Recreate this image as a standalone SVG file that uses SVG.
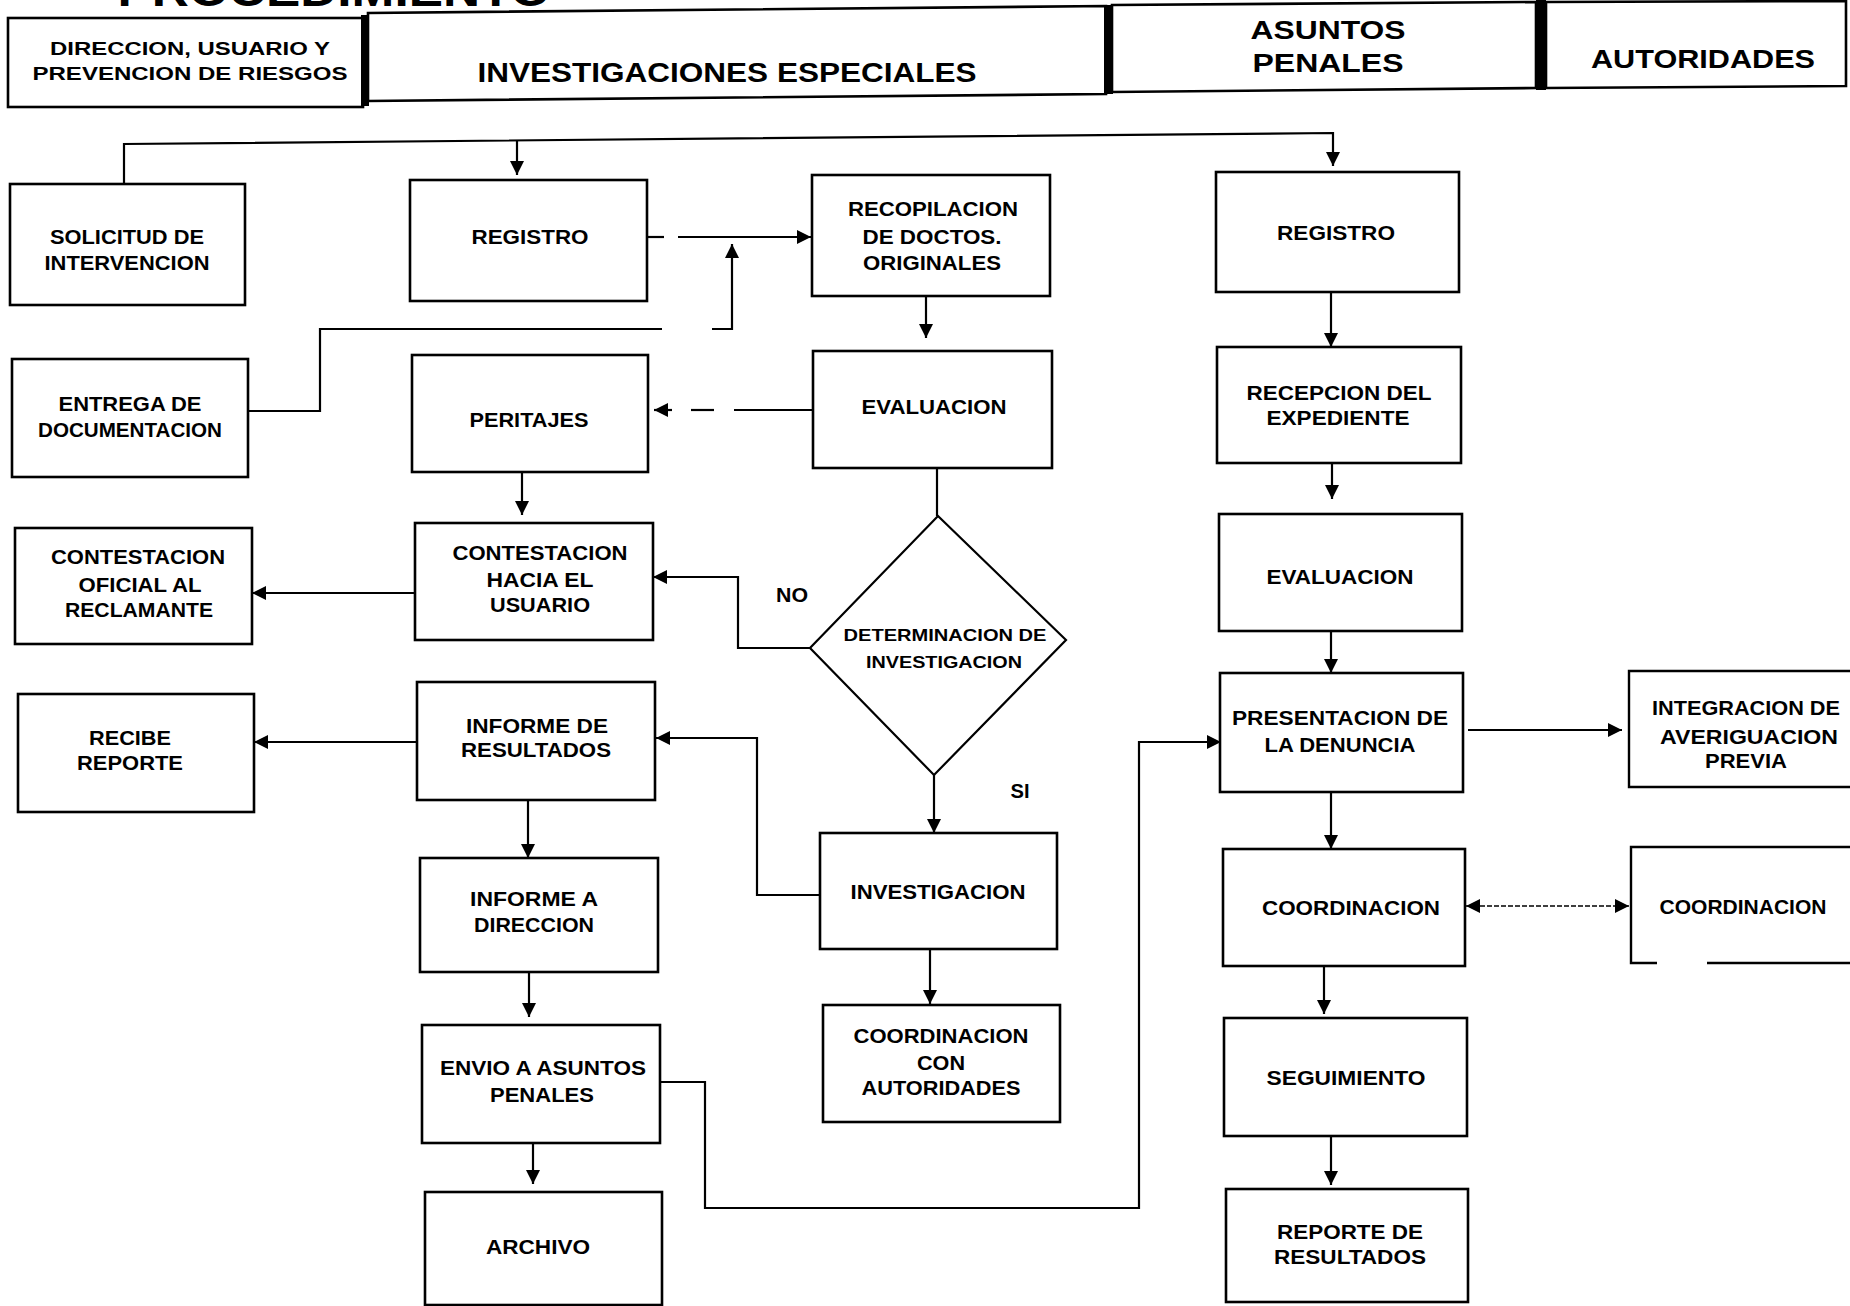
<svg xmlns="http://www.w3.org/2000/svg" width="1850" height="1306" viewBox="0 0 1850 1306">
<style>
.bg{fill:#fff}
.box{fill:#fff;stroke:#000;stroke-width:2.6}
.open{fill:none;stroke:#000;stroke-width:2.4}
.dia{fill:#fff;stroke:#000;stroke-width:2.2}
.bar{fill:#000}
.t{font-family:"Liberation Sans",Arial,Helvetica,sans-serif;font-weight:bold;font-size:20px;text-anchor:middle;fill:#000}
.h{font-size:26px}
.hs{font-size:19px}
.d{font-size:16.5px}
.ln{fill:none;stroke:#000;stroke-width:2.2}
.dot{fill:none;stroke:#000;stroke-width:1.6;stroke-dasharray:5 2}
</style>
<defs>
<marker id="ah" viewBox="0 0 14 14" markerWidth="14" markerHeight="14" refX="14" refY="7" orient="auto-start-reverse" markerUnits="userSpaceOnUse">
<path d="M0,0 L14,7 L0,14 z" fill="#000"/>
</marker>
</defs>
<rect class="bg" x="0" y="0" width="1850" height="1306"/>

<g id="title">
<text class="t" x="334" y="6" style="font-size:44px" textLength="433" lengthAdjust="spacingAndGlyphs">PROCEDIMIENTO</text>
</g>

<g id="header">
<rect class="box" x="8" y="18" width="355" height="89"/>
<polygon class="box" points="368,13 1106,6 1106,94 368,101"/>
<polygon class="box" points="1112,5 1536,2 1536,88 1112,92"/>
<polygon class="box" points="1546,2 1846,1 1846,86 1546,88"/>
<rect class="bar" x="361" y="15" width="8" height="91"/>
<rect class="bar" x="1104" y="5" width="9" height="89"/>
<rect class="bar" x="1536" y="0" width="10" height="90"/>
<text class="t hs" x="190" y="55" textLength="280" lengthAdjust="spacingAndGlyphs">DIRECCION, USUARIO Y</text>
<text class="t hs" x="190" y="80" textLength="315" lengthAdjust="spacingAndGlyphs">PREVENCION DE RIESGOS</text>
<text class="t h" x="727" y="82" style="font-size:27px" textLength="499" lengthAdjust="spacingAndGlyphs">INVESTIGACIONES ESPECIALES</text>
<text class="t h" x="1328" y="39" textLength="155" lengthAdjust="spacingAndGlyphs">ASUNTOS</text>
<text class="t h" x="1328" y="72" textLength="151" lengthAdjust="spacingAndGlyphs">PENALES</text>
<text class="t h" x="1703" y="68" textLength="224" lengthAdjust="spacingAndGlyphs">AUTORIDADES</text>
</g>

<g id="connectors">
<path class="ln" d="M124,184 V144 L1333,133 V166" marker-end="url(#ah)"/>
<path class="ln" d="M517,140 V175" marker-end="url(#ah)"/>
<path class="ln" d="M647,237 H664"/>
<path class="ln" d="M678,237 H811" marker-end="url(#ah)"/>
<path class="ln" d="M249,411 H320 V329 H662"/>
<path class="ln" d="M712,329 H732 V244" marker-end="url(#ah)"/>
<path class="ln" d="M926,296 V338" marker-end="url(#ah)"/>
<path class="ln" d="M813,410 H734"/>
<path class="ln" d="M714,410 H691"/>
<path class="ln" d="M672,410 H654" marker-end="url(#ah)"/>
<path class="ln" d="M937,468 V516"/>
<path class="ln" d="M522,472 V515" marker-end="url(#ah)"/>
<path class="ln" d="M810,648 H738 V577 H653" marker-end="url(#ah)"/>
<path class="ln" d="M415,593 H252" marker-end="url(#ah)"/>
<path class="ln" d="M820,895 H757 V738 H656" marker-end="url(#ah)"/>
<path class="ln" d="M934,775 V833" marker-end="url(#ah)"/>
<path class="ln" d="M417,742 H254" marker-end="url(#ah)"/>
<path class="ln" d="M528,800 V858" marker-end="url(#ah)"/>
<path class="ln" d="M529,972 V1017" marker-end="url(#ah)"/>
<path class="ln" d="M533,1143 V1184" marker-end="url(#ah)"/>
<path class="ln" d="M660,1082 H705 V1208 H1139 V742 H1221" marker-end="url(#ah)"/>
<path class="ln" d="M1331,292 V347" marker-end="url(#ah)"/>
<path class="ln" d="M1332,463 V499" marker-end="url(#ah)"/>
<path class="ln" d="M1331,631 V673" marker-end="url(#ah)"/>
<path class="ln" d="M1468,730 H1622" marker-end="url(#ah)"/>
<path class="ln" d="M1331,792 V849" marker-end="url(#ah)"/>
<path class="dot" d="M1466,906 H1629" marker-start="url(#ah)" marker-end="url(#ah)"/>
<path class="ln" d="M1324,966 V1014" marker-end="url(#ah)"/>
<path class="ln" d="M1331,1136 V1185" marker-end="url(#ah)"/>
<path class="ln" d="M930,948 V1004" marker-end="url(#ah)"/>
<text class="t" x="792" y="602" textLength="32" lengthAdjust="spacingAndGlyphs">NO</text>
<text class="t" x="1020" y="798" textLength="19" lengthAdjust="spacingAndGlyphs">SI</text>
</g>

<g id="solicitud">
<rect class="box" x="10" y="184" width="235" height="121"/>
<text class="t" x="127" y="244" textLength="154" lengthAdjust="spacingAndGlyphs">SOLICITUD DE</text>
<text class="t" x="127" y="270" textLength="165" lengthAdjust="spacingAndGlyphs">INTERVENCION</text>
</g>
<g id="entrega">
<rect class="box" x="12" y="359" width="236" height="118"/>
<text class="t" x="130" y="411" textLength="143" lengthAdjust="spacingAndGlyphs">ENTREGA DE</text>
<text class="t" x="130" y="437" textLength="184" lengthAdjust="spacingAndGlyphs">DOCUMENTACION</text>
</g>
<g id="contestacion-oficial">
<rect class="box" x="15" y="528" width="237" height="116"/>
<text class="t" x="138" y="564" textLength="174" lengthAdjust="spacingAndGlyphs">CONTESTACION</text>
<text class="t" x="140" y="592" textLength="123" lengthAdjust="spacingAndGlyphs">OFICIAL AL</text>
<text class="t" x="139" y="617" textLength="148" lengthAdjust="spacingAndGlyphs">RECLAMANTE</text>
</g>
<g id="recibe">
<rect class="box" x="18" y="694" width="236" height="118"/>
<text class="t" x="130" y="745" textLength="82" lengthAdjust="spacingAndGlyphs">RECIBE</text>
<text class="t" x="130" y="770" textLength="106" lengthAdjust="spacingAndGlyphs">REPORTE</text>
</g>

<g id="registro-ie">
<rect class="box" x="410" y="180" width="237" height="121"/>
<text class="t" x="530" y="244" textLength="117" lengthAdjust="spacingAndGlyphs">REGISTRO</text>
</g>
<g id="peritajes">
<rect class="box" x="412" y="355" width="236" height="117"/>
<text class="t" x="529" y="427" textLength="119" lengthAdjust="spacingAndGlyphs">PERITAJES</text>
</g>
<g id="contestacion-hacia">
<rect class="box" x="415" y="523" width="238" height="117"/>
<text class="t" x="540" y="560" textLength="175" lengthAdjust="spacingAndGlyphs">CONTESTACION</text>
<text class="t" x="540" y="587" textLength="107" lengthAdjust="spacingAndGlyphs">HACIA EL</text>
<text class="t" x="540" y="612" textLength="100" lengthAdjust="spacingAndGlyphs">USUARIO</text>
</g>
<g id="informe-resultados">
<rect class="box" x="417" y="682" width="238" height="118"/>
<text class="t" x="537" y="733" textLength="142" lengthAdjust="spacingAndGlyphs">INFORME DE</text>
<text class="t" x="536" y="757" textLength="150" lengthAdjust="spacingAndGlyphs">RESULTADOS</text>
</g>
<g id="informe-direccion">
<rect class="box" x="420" y="858" width="238" height="114"/>
<text class="t" x="534" y="906" textLength="128" lengthAdjust="spacingAndGlyphs">INFORME A</text>
<text class="t" x="534" y="932" textLength="120" lengthAdjust="spacingAndGlyphs">DIRECCION</text>
</g>
<g id="envio">
<rect class="box" x="422" y="1025" width="238" height="118"/>
<text class="t" x="543" y="1075" textLength="206" lengthAdjust="spacingAndGlyphs">ENVIO A ASUNTOS</text>
<text class="t" x="542" y="1102" textLength="104" lengthAdjust="spacingAndGlyphs">PENALES</text>
</g>
<g id="archivo">
<rect class="box" x="425" y="1192" width="237" height="113"/>
<text class="t" x="538" y="1254" textLength="104" lengthAdjust="spacingAndGlyphs">ARCHIVO</text>
</g>

<g id="recopilacion">
<rect class="box" x="812" y="175" width="238" height="121"/>
<text class="t" x="933" y="216" textLength="170" lengthAdjust="spacingAndGlyphs">RECOPILACION</text>
<text class="t" x="932" y="244" textLength="139" lengthAdjust="spacingAndGlyphs">DE DOCTOS.</text>
<text class="t" x="932" y="270" textLength="138" lengthAdjust="spacingAndGlyphs">ORIGINALES</text>
</g>
<g id="evaluacion-ie">
<rect class="box" x="813" y="351" width="239" height="117"/>
<text class="t" x="934" y="414" textLength="145" lengthAdjust="spacingAndGlyphs">EVALUACION</text>
</g>
<g id="determinacion">
<polygon class="dia" points="938,516 1066,640 934,775 810,648"/>
<text class="t d" x="945" y="641" textLength="203" lengthAdjust="spacingAndGlyphs">DETERMINACION DE</text>
<text class="t d" x="944" y="668" textLength="156" lengthAdjust="spacingAndGlyphs">INVESTIGACION</text>
</g>
<g id="investigacion">
<rect class="box" x="820" y="833" width="237" height="116"/>
<text class="t" x="938" y="899" textLength="175" lengthAdjust="spacingAndGlyphs">INVESTIGACION</text>
</g>
<g id="coordinacion-autoridades">
<rect class="box" x="823" y="1005" width="237" height="117"/>
<text class="t" x="941" y="1043" textLength="175" lengthAdjust="spacingAndGlyphs">COORDINACION</text>
<text class="t" x="941" y="1070" textLength="48" lengthAdjust="spacingAndGlyphs">CON</text>
<text class="t" x="941" y="1095" textLength="159" lengthAdjust="spacingAndGlyphs">AUTORIDADES</text>
</g>

<g id="registro-ap">
<rect class="box" x="1216" y="172" width="243" height="120"/>
<text class="t" x="1336" y="240" textLength="118" lengthAdjust="spacingAndGlyphs">REGISTRO</text>
</g>
<g id="recepcion">
<rect class="box" x="1217" y="347" width="244" height="116"/>
<text class="t" x="1339" y="400" textLength="185" lengthAdjust="spacingAndGlyphs">RECEPCION DEL</text>
<text class="t" x="1338" y="425" textLength="143" lengthAdjust="spacingAndGlyphs">EXPEDIENTE</text>
</g>
<g id="evaluacion-ap">
<rect class="box" x="1219" y="514" width="243" height="117"/>
<text class="t" x="1340" y="584" textLength="147" lengthAdjust="spacingAndGlyphs">EVALUACION</text>
</g>
<g id="presentacion">
<rect class="box" x="1220" y="673" width="243" height="119"/>
<text class="t" x="1340" y="725" textLength="216" lengthAdjust="spacingAndGlyphs">PRESENTACION DE</text>
<text class="t" x="1340" y="752" textLength="151" lengthAdjust="spacingAndGlyphs">LA DENUNCIA</text>
</g>
<g id="coordinacion-ap">
<rect class="box" x="1223" y="849" width="242" height="117"/>
<text class="t" x="1351" y="915" textLength="178" lengthAdjust="spacingAndGlyphs">COORDINACION</text>
</g>
<g id="seguimiento">
<rect class="box" x="1224" y="1018" width="243" height="118"/>
<text class="t" x="1346" y="1085" textLength="159" lengthAdjust="spacingAndGlyphs">SEGUIMIENTO</text>
</g>
<g id="reporte">
<rect class="box" x="1226" y="1189" width="242" height="113"/>
<text class="t" x="1350" y="1239" textLength="146" lengthAdjust="spacingAndGlyphs">REPORTE DE</text>
<text class="t" x="1350" y="1264" textLength="152" lengthAdjust="spacingAndGlyphs">RESULTADOS</text>
</g>

<g id="integracion">
<path class="open" d="M1860,671 H1629 V787 H1860"/>
<text class="t" x="1746" y="715" textLength="188" lengthAdjust="spacingAndGlyphs">INTEGRACION DE</text>
<text class="t" x="1749" y="744" textLength="178" lengthAdjust="spacingAndGlyphs">AVERIGUACION</text>
<text class="t" x="1746" y="768" textLength="82" lengthAdjust="spacingAndGlyphs">PREVIA</text>
</g>
<g id="coordinacion-aut">
<path class="open" d="M1860,847 H1631 V963 H1657 M1707,963 H1860"/>
<text class="t" x="1743" y="914" textLength="167" lengthAdjust="spacingAndGlyphs">COORDINACION</text>
</g>
</svg>
